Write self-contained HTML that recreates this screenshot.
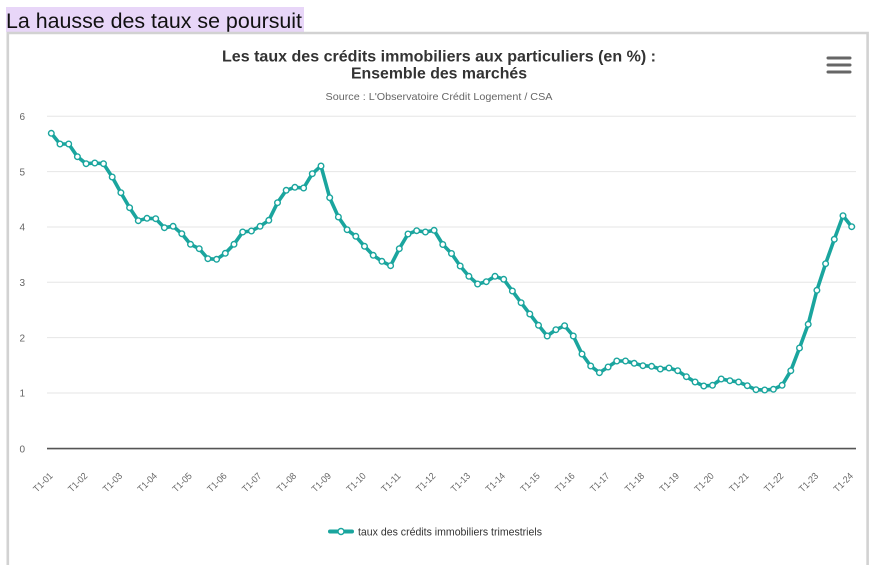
<!DOCTYPE html>
<html><head><meta charset="utf-8"><style>
html,body{margin:0;padding:0;background:#fff;width:873px;height:565px;overflow:hidden}
svg{display:block}
text{font-family:"Liberation Sans",Arial,sans-serif}
</style></head><body>
<svg width="873" height="565" viewBox="0 0 873 565" xmlns="http://www.w3.org/2000/svg">
<defs>
<marker id="m" markerUnits="userSpaceOnUse" markerWidth="10" markerHeight="10" refX="5" refY="5" viewBox="0 0 10 10">
<circle cx="5" cy="5" r="2.8" fill="#fff" stroke="#1aa59e" stroke-width="1.4"/>
</marker>
</defs>
<rect x="6" y="7" width="298" height="25" fill="#e8d6f8"/>
<text x="6" y="28" font-size="21.5" fill="#111" textLength="296" lengthAdjust="spacingAndGlyphs">La hausse des taux se poursuit</text>
<path d="M7.8 565 V33 H867.6 V565" fill="none" stroke="#d2d2d2" stroke-width="2.6"/>
<text x="439" y="61.5" font-size="15.5" font-weight="bold" fill="#333" text-anchor="middle" textLength="434" lengthAdjust="spacingAndGlyphs">Les taux des crédits immobiliers aux particuliers (en %) :</text>
<text x="439" y="78.5" font-size="15.5" font-weight="bold" fill="#333" text-anchor="middle" textLength="176" lengthAdjust="spacingAndGlyphs">Ensemble des marchés</text>
<text x="439" y="100" font-size="10.5" fill="#666" text-anchor="middle" textLength="227" lengthAdjust="spacingAndGlyphs">Source : L'Observatoire Crédit Logement / CSA</text>
<g stroke="#666" stroke-width="3" stroke-linecap="round">
<line x1="828" y1="58" x2="850" y2="58"/><line x1="828" y1="65" x2="850" y2="65"/><line x1="828" y1="72" x2="850" y2="72"/>
</g>
<g stroke="#e6e6e6" stroke-width="1">
<line x1="47" y1="116.3" x2="856" y2="116.3"/>
<line x1="47" y1="171.6" x2="856" y2="171.6"/>
<line x1="47" y1="227" x2="856" y2="227"/>
<line x1="47" y1="282.3" x2="856" y2="282.3"/>
<line x1="47" y1="337.6" x2="856" y2="337.6"/>
<line x1="47" y1="393" x2="856" y2="393"/>
</g>
<line x1="47" y1="448.6" x2="856" y2="448.6" stroke="#555" stroke-width="1.6"/>
<g font-size="10" fill="#666" text-anchor="end">
<text x="25" y="120">6</text>
<text x="25" y="175.3">5</text>
<text x="25" y="230.7">4</text>
<text x="25" y="286">3</text>
<text x="25" y="341.3">2</text>
<text x="25" y="396.7">1</text>
<text x="25" y="452.3">0</text>
</g>
<g font-size="9.5" fill="#666" text-anchor="end">
<text transform="translate(53.3,476.5) rotate(-45)" textLength="23" lengthAdjust="spacingAndGlyphs">T1-01</text>
<text transform="translate(88.1,476.5) rotate(-45)" textLength="23" lengthAdjust="spacingAndGlyphs">T1-02</text>
<text transform="translate(122.9,476.5) rotate(-45)" textLength="23" lengthAdjust="spacingAndGlyphs">T1-03</text>
<text transform="translate(157.7,476.5) rotate(-45)" textLength="23" lengthAdjust="spacingAndGlyphs">T1-04</text>
<text transform="translate(192.5,476.5) rotate(-45)" textLength="23" lengthAdjust="spacingAndGlyphs">T1-05</text>
<text transform="translate(227.3,476.5) rotate(-45)" textLength="23" lengthAdjust="spacingAndGlyphs">T1-06</text>
<text transform="translate(262.1,476.5) rotate(-45)" textLength="23" lengthAdjust="spacingAndGlyphs">T1-07</text>
<text transform="translate(296.9,476.5) rotate(-45)" textLength="23" lengthAdjust="spacingAndGlyphs">T1-08</text>
<text transform="translate(331.7,476.5) rotate(-45)" textLength="23" lengthAdjust="spacingAndGlyphs">T1-09</text>
<text transform="translate(366.5,476.5) rotate(-45)" textLength="23" lengthAdjust="spacingAndGlyphs">T1-10</text>
<text transform="translate(401.3,476.5) rotate(-45)" textLength="23" lengthAdjust="spacingAndGlyphs">T1-11</text>
<text transform="translate(436.1,476.5) rotate(-45)" textLength="23" lengthAdjust="spacingAndGlyphs">T1-12</text>
<text transform="translate(470.9,476.5) rotate(-45)" textLength="23" lengthAdjust="spacingAndGlyphs">T1-13</text>
<text transform="translate(505.7,476.5) rotate(-45)" textLength="23" lengthAdjust="spacingAndGlyphs">T1-14</text>
<text transform="translate(540.5,476.5) rotate(-45)" textLength="23" lengthAdjust="spacingAndGlyphs">T1-15</text>
<text transform="translate(575.3,476.5) rotate(-45)" textLength="23" lengthAdjust="spacingAndGlyphs">T1-16</text>
<text transform="translate(610.1,476.5) rotate(-45)" textLength="23" lengthAdjust="spacingAndGlyphs">T1-17</text>
<text transform="translate(644.9,476.5) rotate(-45)" textLength="23" lengthAdjust="spacingAndGlyphs">T1-18</text>
<text transform="translate(679.7,476.5) rotate(-45)" textLength="23" lengthAdjust="spacingAndGlyphs">T1-19</text>
<text transform="translate(714.5,476.5) rotate(-45)" textLength="23" lengthAdjust="spacingAndGlyphs">T1-20</text>
<text transform="translate(749.3,476.5) rotate(-45)" textLength="23" lengthAdjust="spacingAndGlyphs">T1-21</text>
<text transform="translate(784.1,476.5) rotate(-45)" textLength="23" lengthAdjust="spacingAndGlyphs">T1-22</text>
<text transform="translate(818.9,476.5) rotate(-45)" textLength="23" lengthAdjust="spacingAndGlyphs">T1-23</text>
<text transform="translate(853.7,476.5) rotate(-45)" textLength="23" lengthAdjust="spacingAndGlyphs">T1-24</text>
</g>
<polyline fill="none" stroke="#1aa59e" stroke-width="3.6" stroke-linejoin="round" stroke-linecap="round" marker-start="url(#m)" marker-mid="url(#m)" marker-end="url(#m)" points="
51.3,133.3 60.0,144 68.7,144 77.4,156.7 86.1,163.7 94.8,163 103.5,163.7 112.2,177 120.9,192.7 129.6,207.7
138.3,220.7 147.0,218.3 155.7,218.7 164.4,227.7 173.1,226.3 181.8,233.7 190.5,244.3 199.2,248.7 207.9,258.7 216.6,259.3
225.3,253.3 234.0,244.3 242.7,232 251.4,231 260.1,226.3 268.8,220.3 277.5,202.7 286.2,190.3 294.9,187.3 303.6,188
312.3,173.7 321.0,166 329.7,197.7 338.4,217 347.1,229.7 355.8,236.3 364.5,246.3 373.2,255.3 381.9,261.3 390.6,265.7
399.3,248.7 408.0,234 416.7,230.7 425.4,232 434.1,230.3 442.8,244.5 451.5,253.5 460.2,266 468.9,276.3 477.6,284
486.3,281.7 495.0,276.3 503.7,279.3 512.4,291 521.1,302.7 529.8,314 538.5,325.3 547.2,336 555.9,329.7 564.6,325.7
573.3,336 582.0,354 590.7,366 599.4,372.7 608.1,367 616.8,361 625.5,361 634.2,363.3 642.9,365.7 651.6,366.3
660.3,369 669.0,368 677.7,370.7 686.4,376.7 695.1,382 703.8,386 712.5,385.3 721.2,379 729.9,380.7 738.6,382
747.3,385.7 756.0,389.7 764.7,390 773.4,389.3 782.1,385.3 790.8,370.7 799.5,348 808.2,324.3 816.9,290.3 825.6,263.7
834.3,239.3 843.0,215.7 851.7,226.7"/>
<line x1="330" y1="531.5" x2="352" y2="531.5" stroke="#1aa59e" stroke-width="4" stroke-linecap="round"/>
<circle cx="341" cy="531.5" r="3" fill="#fff" stroke="#1aa59e" stroke-width="1.4"/>
<text x="358" y="535.5" font-size="11" fill="#333" textLength="184" lengthAdjust="spacingAndGlyphs">taux des crédits immobiliers trimestriels</text>
</svg>
</body></html>
